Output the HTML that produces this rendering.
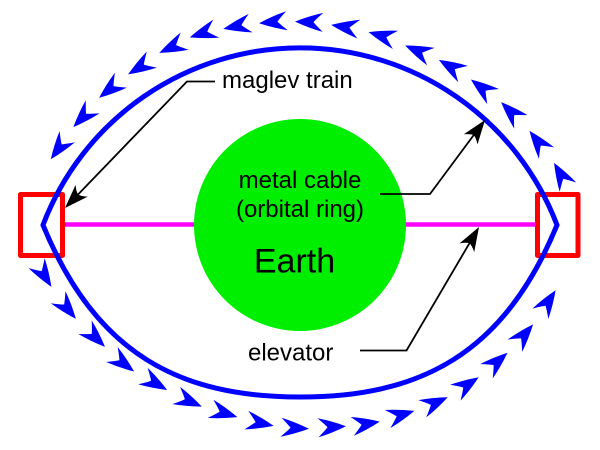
<!DOCTYPE html>
<html>
<head>
<meta charset="utf-8">
<style>
  html, body { margin: 0; padding: 0; background: #fff; }
  svg { display: block; }
  text { font-family: "Liberation Sans", Arial, sans-serif; fill: #000; }
</style>
</head>
<body>
<svg width="600" height="450" viewBox="0 0 600 450" xmlns="http://www.w3.org/2000/svg">
  <defs>
    <path id="ba" d="M14,0 Q0,-6 -14,-9.5 Q-7,-3 -4.5,0 Q-7,3 -14,9.5 Q0,6 14,0 Z" fill="#0000ff"/>
    <path id="ka" d="M0,0 L-24,-8.5 Q-19,-2.5 -19,0 Q-19,2.5 -24,8.5 Z" fill="#000"/>
  </defs>
  <rect width="600" height="450" fill="#fff"/>

  <!-- magenta elevator cable -->
  <line x1="62" y1="224.5" x2="538" y2="224.5" stroke="#ff00ff" stroke-width="4.5"/>

  <!-- red boxes -->
  <rect x="20.5" y="194.5" width="42" height="61" fill="none" stroke="#ff0000" stroke-width="5" stroke-linejoin="round"/>
  <rect x="537.5" y="194.5" width="40.5" height="61" fill="none" stroke="#ff0000" stroke-width="5" stroke-linejoin="round"/>

  <!-- Earth -->
  <circle cx="300" cy="225" r="106" fill="#00ee00"/>

  <!-- blue ring -->
  <path d="M43,225 A275,275 0 0 1 557,225 C503.8,354.5 420,397 300,397 C180,397 96.2,354.5 43,225 Z"
        fill="none" stroke="#0000ff" stroke-width="5" stroke-linejoin="miter"/>

  <!-- top arrows (moving left / counter-clockwise) -->
  <use href="#ba" transform="translate(59,148) rotate(126.1)"/>
  <use href="#ba" transform="translate(83,117) rotate(133.6)"/>
  <use href="#ba" transform="translate(110,89) rotate(141)"/>
  <use href="#ba" transform="translate(140,67) rotate(148.1)"/>
  <use href="#ba" transform="translate(172,47) rotate(155.2)"/>
  <use href="#ba" transform="translate(203,33) rotate(161.6)"/>
  <use href="#ba" transform="translate(237,26) rotate(168.1)"/>
  <use href="#ba" transform="translate(273,22) rotate(174.9)"/>
  <use href="#ba" transform="translate(309,22) rotate(181.7)"/>
  <use href="#ba" transform="translate(345,27) rotate(188.6)"/>
  <use href="#ba" transform="translate(382,36) rotate(195.9)"/>
  <use href="#ba" transform="translate(418,51) rotate(203.4)"/>
  <use href="#ba" transform="translate(451,67) rotate(210.4)"/>
  <use href="#ba" transform="translate(482,88) rotate(217.6)"/>
  <use href="#ba" transform="translate(511,112) rotate(224.9)"/>
  <use href="#ba" transform="translate(538,142) rotate(232.6)"/>
  <use href="#ba" transform="translate(561,175) rotate(240.3)"/>

  <!-- bottom arrows (moving right) -->
  <use href="#ba" transform="translate(44,275) rotate(58)"/>
  <use href="#ba" transform="translate(67,308) rotate(50.6)"/>
  <use href="#ba" transform="translate(95,337) rotate(44.5)"/>
  <use href="#ba" transform="translate(123,363) rotate(37.5)"/>
  <use href="#ba" transform="translate(155,383) rotate(29.9)"/>
  <use href="#ba" transform="translate(189,401) rotate(23.5)"/>
  <use href="#ba" transform="translate(224,413) rotate(17.2)"/>
  <use href="#ba" transform="translate(260,423) rotate(11.9)"/>
  <use href="#ba" transform="translate(295,428) rotate(3.2)"/>
  <use href="#ba" transform="translate(332,427) rotate(-3.2)"/>
  <use href="#ba" transform="translate(366,424) rotate(-9.9)"/>
  <use href="#ba" transform="translate(401,415) rotate(-16.9)"/>
  <use href="#ba" transform="translate(435,403) rotate(-24.4)"/>
  <use href="#ba" transform="translate(467,385) rotate(-33.5)"/>
  <use href="#ba" transform="translate(497,362) rotate(-41.3)"/>
  <use href="#ba" transform="translate(524,335) rotate(-49.6)"/>
  <use href="#ba" transform="translate(548,302) rotate(-57)"/>

  <!-- leader lines -->
  <polyline points="215,81.5 187,81.5 75.4,197.2" fill="none" stroke="#000" stroke-width="1.8"/>
  <use href="#ka" transform="translate(65,208) rotate(134)"/>

  <polyline points="380,194 430,194 476,132" fill="none" stroke="#000" stroke-width="1.8"/>
  <use href="#ka" transform="translate(485,120) rotate(-53.4)"/>

  <polyline points="360,350.5 406.5,350.5 471.4,239.9" fill="none" stroke="#000" stroke-width="1.8"/>
  <use href="#ka" transform="translate(479,227) rotate(-59.7)"/>

  <!-- labels -->
  <text x="222" y="88" font-size="24">maglev train</text>
  <text x="300" y="188" font-size="24" text-anchor="middle">metal cable</text>
  <text x="300" y="217" font-size="24" text-anchor="middle">(orbital ring)</text>
  <text x="294.5" y="272.5" font-size="34" text-anchor="middle">Earth</text>
  <text x="248" y="360.5" font-size="24">elevator</text>
</svg>
</body>
</html>
